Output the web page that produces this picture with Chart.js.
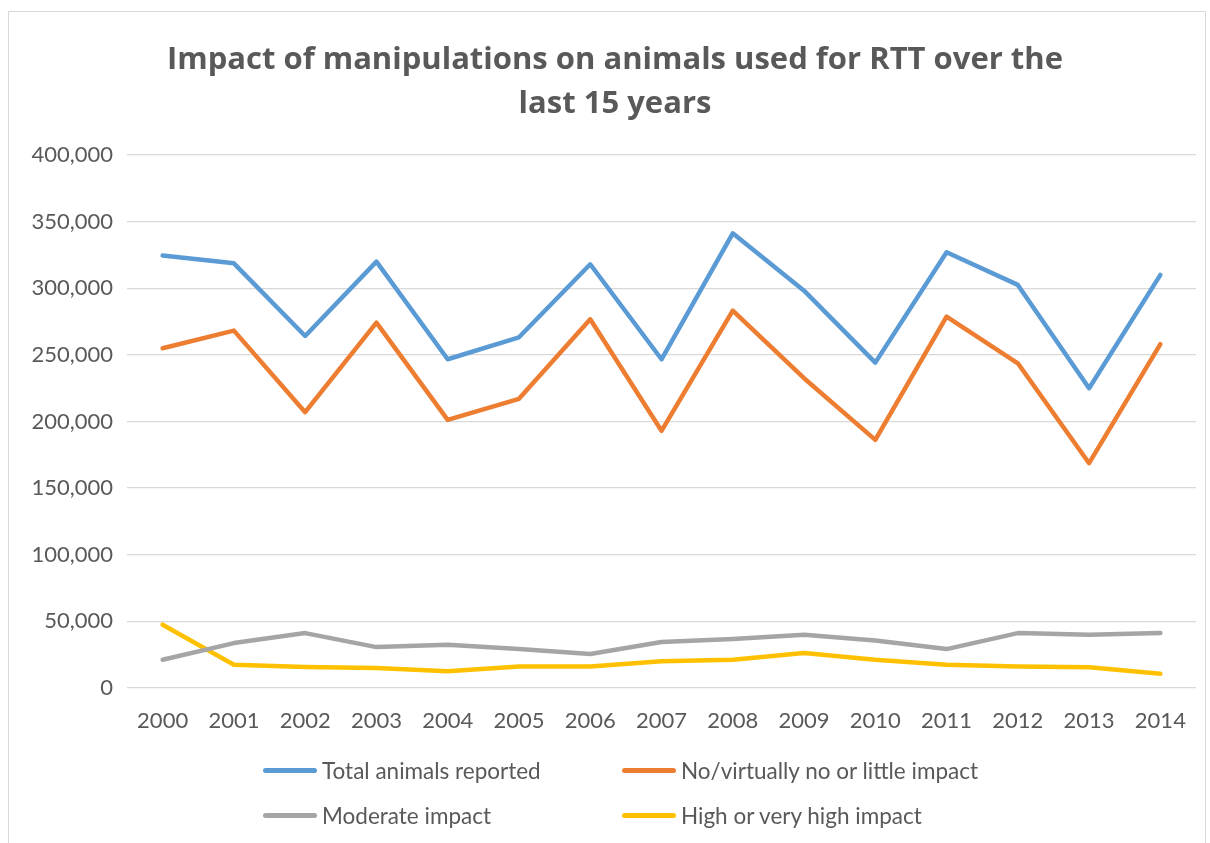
<!DOCTYPE html>
<html>
<head>
<meta charset="utf-8">
<script src="https://cdn.jsdelivr.net/npm/chart.js@4.4.0/dist/chart.umd.min.js"></script>
<style>
    html, body { margin: 0; padding: 0; background: #ffffff; }
    body { width: 1210px; height: 843px; position: relative; overflow: hidden; font-family: Lato, "Open Sans", sans-serif; }
    .frame { position: absolute; left: 8px; top: 11px; width: 1198px; height: 840px; border: 1px solid #d9d9d9; box-sizing: border-box; }
    #chart { position: absolute; left: 0; top: 0; }
    .title { position: absolute; left: 115px; width: 1000px; top: 35px; text-align: center; font-family: "Open Sans", sans-serif; font-weight: bold; font-size: 31px; line-height: 44px; color: #595959; }
    .legend { position: absolute; left: 0; top: 0; }
    .legend .item { position: absolute; display: flex; align-items: center; font-size: 22.5px; color: #595959; white-space: nowrap; }
    .legend .swatch { width: 54px; height: 5px; border-radius: 3px; margin-right: 5px; }
</style>
</head>
<body>
<div class="frame"></div>
<canvas id="chart" width="1210" height="843"></canvas>
<div class="title" id="title"></div>
<div class="legend" id="legend"></div>
<script>
// categories
const years = ['2000', '2001', '2002', '2003', '2004', '2005', '2006', '2007',
    '2008', '2009', '2010', '2011', '2012', '2013', '2014'];

// series values
const totalAnimals = [324500, 318700, 264200, 320000, 246700, 263200, 318000, 246700,
    341200, 298200, 244200, 327000, 302500, 225000, 310000];
const littleImpact = [255000, 268200, 207000, 274200, 201200, 217000, 276700, 193000,
    283200, 232500, 186200, 278700, 243700, 168700, 258000];
const moderateImpact = [21200, 33700, 41200, 30700, 32500, 29200, 25500, 34500,
    36700, 40000, 35700, 29200, 41200, 40000, 41200];
const highImpact = [47500, 17500, 15700, 15000, 12500, 16200, 16200, 20000,
    21200, 26200, 21200, 17500, 16200, 15500, 10700];

const seriesNames = ['Total animals reported', 'No/virtually no or little impact',
    'Moderate impact', 'High or very high impact'];
const seriesColors = ['#5B9BD5', '#ED7D31', '#A5A5A5', '#FFC000'];

const titleLines = ['Impact of manipulations on animals used for RTT over the', 'last 15 years'];

const textColor = '#595959';
const gridColor = '#d9d9d9';

document.getElementById('title').innerHTML = titleLines.join('<br>');

function lineSet(i, data) {
    return {
        label: seriesNames[i],
        data: data,
        borderColor: seriesColors[i],
        backgroundColor: seriesColors[i],
        borderWidth: 4.5,
        borderCapStyle: 'round',
        borderJoinStyle: 'round',
        pointRadius: 0,
        tension: 0,
        order: i
    };
}

const chart = new Chart(document.getElementById('chart').getContext('2d'), {
    type: 'line',
    data: {
        labels: years,
        datasets: [
            lineSet(0, totalAnimals),
            lineSet(1, littleImpact),
            lineSet(2, moderateImpact),
            lineSet(3, highImpact)
        ]
    },
    options: {
        responsive: false,
        animation: false,
        layout: {
            padding: { left: 0, right: 14, top: 155, bottom: 105 }
        },
        plugins: {
            legend: { display: false },
            tooltip: { enabled: false },
            title: { display: false }
        },
        scales: {
            x: {
                offset: true,
                grid: { display: false, drawTicks: false },
                border: { display: false },
                ticks: {
                    color: textColor,
                    font: { family: 'Lato', size: 22 },
                    padding: 20,
                    maxRotation: 0
                },
                afterFit: (scale) => { scale.height = 50; }
            },
            y: {
                min: 0,
                max: 400000,
                grid: { color: gridColor, lineWidth: 1.3, drawTicks: false },
                border: { display: false },
                ticks: {
                    stepSize: 50000,
                    color: textColor,
                    font: { family: 'Lato', size: 22 },
                    padding: 14,
                    callback: (v) => v.toLocaleString('en-US')
                },
                afterFit: (scale) => { scale.width = 127; }
            }
        }
    }
});

// legend, two rows of two
const legendPos = [[263, 772], [622, 772], [263, 817], [622, 817]];
const legendEl = document.getElementById('legend');
seriesNames.forEach((name, i) => {
    const item = document.createElement('div');
    item.className = 'item';
    item.style.left = legendPos[i][0] + 'px';
    item.style.top = (legendPos[i][1] - 15) + 'px';
    item.innerHTML = '<span class="swatch" style="background:' + seriesColors[i] + '"></span>' + name;
    legendEl.appendChild(item);
});
</script>
</body>
</html>
